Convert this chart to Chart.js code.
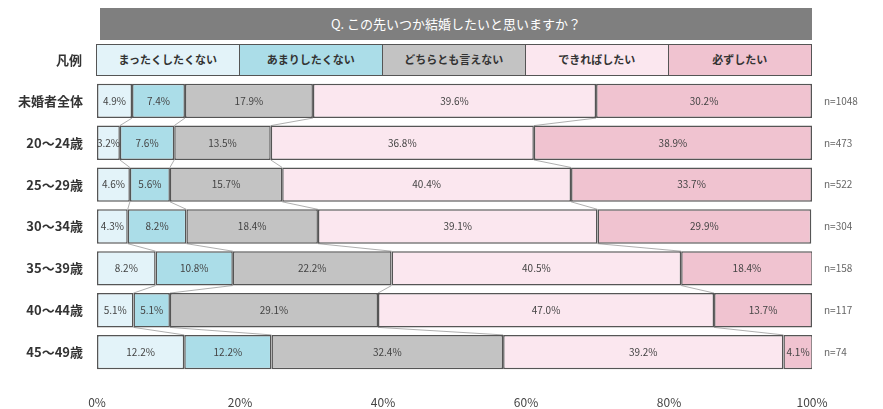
<!DOCTYPE html>
<html>
  <head>
    <meta charset="utf-8" />
    <title>結婚意向</title>
    <script src="https://cdn.jsdelivr.net/npm/chart.js"></script>
    <style>
      body {
        margin: 0;
        background: #fff;
        font-family: "Noto Sans CJK JP", "Noto Sans", sans-serif;
      }
      .wrap {
        position: relative;
        width: 883px;
        height: 409px;
      }
      .title-bar {
        position: absolute;
        left: 100px;
        top: 8px;
        width: 712px;
        height: 32px;
        background: #7f7f7f;
        color: #fff;
        font-size: 13px;
        line-height: 32px;
        text-align: center;
      }
      .legend-label {
        position: absolute;
        left: 30px;
        top: 44px;
        width: 52px;
        height: 32px;
        line-height: 32px;
        text-align: right;
        font-weight: bold;
        font-size: 13px;
        color: #333;
      }
      .legend {
        position: absolute;
        left: 97px;
        top: 44px;
        width: 715px;
        height: 32px;
        display: flex;
      }
      .legend div {
        flex: 1;
        border: 1.5px solid #555;
        margin-left: -1.5px;
        font-size: 11px;
        font-weight: bold;
        color: #333;
        text-align: center;
        line-height: 29px;
      }
      canvas {
        position: absolute;
        left: 0;
        top: 0;
      }
    </style>
  </head>
  <body>
    <div class="wrap">
      <canvas id="chart" width="883" height="409"></canvas>
      <div class="title-bar">Q. この先いつか結婚したいと思いますか？</div>
      <div class="legend-label">凡例</div>
      <div class="legend" id="legend"></div>
    </div>

    <script>
      // データ
      const categories = ["未婚者全体", "20～24歳", "25～29歳", "30～34歳", "35～39歳", "40～44歳", "45～49歳"];
      const sampleSizes = ["n=1048", "n=473", "n=522", "n=304", "n=158", "n=117", "n=74"];
      const seriesNames = ["まったくしたくない", "あまりしたくない", "どちらとも言えない", "できればしたい", "必ずしたい"];
      const notAtAll = [4.9, 3.2, 4.6, 4.3, 8.2, 5.1, 12.2];
      const notMuch = [7.4, 7.6, 5.6, 8.2, 10.8, 5.1, 12.2];
      const neither = [17.9, 13.5, 15.7, 18.4, 22.2, 29.1, 32.4];
      const ifPossible = [39.6, 36.8, 40.4, 39.1, 40.5, 47.0, 39.2];
      const definitely = [30.2, 38.9, 33.7, 29.9, 18.4, 13.7, 4.1];
      const xTicks = [0, 20, 40, 60, 80, 100];

      const colors = ["#e3f3f9", "#abdde8", "#c3c3c3", "#fbe7ef", "#f0c3d0"];
      const values = [notAtAll, notMuch, neither, ifPossible, definitely];

      // 凡例 (HTML)
      const legendDiv = document.getElementById("legend");
      seriesNames.forEach((name, i) => {
        const d = document.createElement("div");
        d.textContent = name;
        d.style.background = colors[i];
        legendDiv.appendChild(d);
      });

      // 系列線
      const seriesLines = {
        id: "seriesLines",
        beforeDatasetsDraw(chart) {
          const ctx = chart.ctx;
          ctx.save();
          ctx.strokeStyle = "rgba(110,110,110,0.55)";
          ctx.lineWidth = 1;
          for (let k = 0; k < values.length - 1; k++) {
            const meta = chart.getDatasetMeta(k).data;
            for (let i = 0; i < meta.length - 1; i++) {
              const a = meta[i];
              const b = meta[i + 1];
              ctx.beginPath();
              ctx.moveTo(a.x, a.y + a.height / 2);
              ctx.lineTo(b.x, b.y - b.height / 2);
              ctx.stroke();
            }
          }
          ctx.restore();
        },
      };

      // 値ラベル
      const valueLabels = {
        id: "valueLabels",
        afterDatasetsDraw(chart) {
          const ctx = chart.ctx;
          ctx.save();
          ctx.font = '10px "Noto Sans CJK JP", sans-serif';
          ctx.fillStyle = "#444";
          ctx.textAlign = "center";
          ctx.textBaseline = "middle";
          chart.data.datasets.forEach((ds, k) => {
            chart.getDatasetMeta(k).data.forEach((el, i) => {
              ctx.fillText(ds.data[i].toFixed(1) + "%", (el.x + el.base) / 2, el.y);
            });
          });
          ctx.restore();
        },
      };

      new Chart(document.getElementById("chart"), {
        type: "bar",
        data: {
          labels: categories,
          datasets: values.map((v, i) => ({
            label: seriesNames[i],
            data: v,
            backgroundColor: colors[i],
            borderColor: "#555",
            borderWidth: 1.5,
            borderSkipped: false,
            barPercentage: 0.82,
            categoryPercentage: 1,
          })),
        },
        options: {
          indexAxis: "y",
          responsive: false,
          animation: false,
          layout: { padding: { top: 80, bottom: 0 } },
          plugins: {
            legend: { display: false },
            tooltip: { enabled: false },
          },
          scales: {
            x: {
              stacked: true,
              min: 0,
              max: 100,
              afterBuildTicks: (scale) => {
                scale.ticks = xTicks.map((v) => ({ value: v }));
              },
              grid: { display: false, drawTicks: false },
              border: { display: false },
              ticks: {
                callback: (v) => v + "%",
                color: "#444",
                font: { size: 12, family: "Noto Sans CJK JP" },
                padding: 22,
              },
              afterFit: (scale) => {
                scale.height = 36;
              },
            },
            y: {
              stacked: true,
              grid: { display: false },
              border: { display: false },
              ticks: {
                color: "#333",
                font: { size: 13, weight: "bold", family: "Noto Sans CJK JP" },
                padding: 6,
              },
              afterFit: (scale) => {
                scale.width = 97;
              },
            },
            y2: {
              type: "category",
              labels: sampleSizes,
              position: "right",
              grid: { display: false },
              border: { display: false },
              ticks: {
                color: "#666",
                font: { size: 10, family: "Noto Sans CJK JP" },
                padding: 4,
              },
              afterFit: (scale) => {
                scale.width = 71;
              },
            },
          },
        },
        plugins: [seriesLines, valueLabels],
      });
    </script>
  </body>
</html>
